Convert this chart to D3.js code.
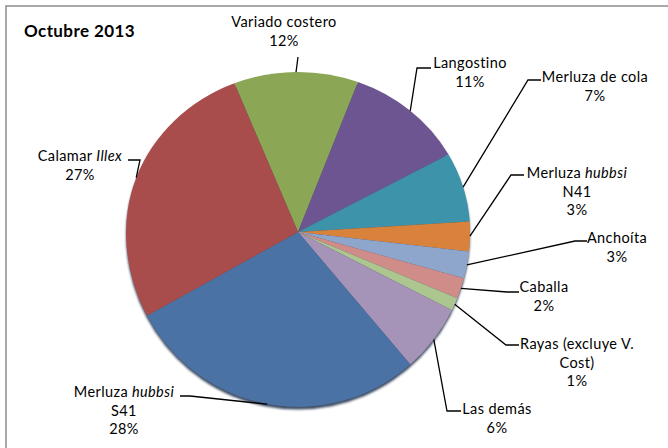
<!DOCTYPE html>
<html>
<head>
<meta charset="utf-8">
<script src="https://cdn.jsdelivr.net/npm/d3@7"></script>
<style>
  body { margin: 0; background: #fff; }
  text { font-family: Lato, "Liberation Sans", sans-serif; fill: #000; }
</style>
</head>
<body>
<svg id="chart" width="668" height="448"></svg>
<script>
// data, clockwise from the top
var categories = ["Variado costero", "Langostino", "Merluza de cola", "Merluza hubbsi\nN41",
  "Anchoíta", "Caballa", "Rayas (excluye V.\nCost)", "Las demás", "Merluza hubbsi\nS41", "Calamar Illex"];
var values = [11.7, 11.3, 7.0, 2.8, 2.5, 1.9, 1.2, 6.3, 28.4, 26.9];
var italicWords = ["hubbsi", "Illex"];
var colors = ["#8ba755", "#6d5591", "#3d93a9", "#d9823b", "#8fa6cc", "#cf8c89",
  "#adc58e", "#a594b8", "#4a72a4", "#a84d4b"];

// label layout: text centre x, first line centre y, elbow of leader, tail end x
var labelPos = [
  {x: 284, y: 22, ex: 298, ey: 57, tx: 298},
  {x: 470, y: 63, ex: 417, ey: 68, tx: 431},
  {x: 595, y: 77, ex: 528, ey: 80, tx: 541},
  {x: 577, y: 173, ex: 511, ey: 175, tx: 524},
  {x: 617, y: 238, ex: 575, ey: 241, tx: 587},
  {x: 544, y: 287, ex: 507, ey: 292, tx: 519},
  {x: 577, y: 344, ex: 506, ey: 345, tx: 519},
  {x: 497, y: 409, ex: 447, ey: 411, tx: 461},
  {x: 124, y: 392, ex: 190, ey: 396, tx: 180},
  {x: 80, y: 156, ex: 140, ey: 160, tx: 128}
];

var svg = d3.select("#chart");
var cx = 298, cy = 232, rx = 172, rTop = 160, rBot = 175;
var lineH = 18.5;

// chart frame (runs off the right and bottom edges)
svg.append("rect")
  .attr("x", 6).attr("y", 6).attr("width", 700).attr("height", 500)
  .attr("fill", "none").attr("stroke", "#8c8c8c").attr("stroke-width", 1.5);

svg.append("text")
  .attr("x", 24).attr("y", 37)
  .style("font-weight", "bold").style("font-size", "17px")
  .style("letter-spacing", "0.4px")
  .text("Octubre 2013");

var pie = d3.pie().sort(null).value(function(d) { return d; })
  .startAngle(-0.379).endAngle(2 * Math.PI - 0.379);
var arcs = pie(values);
var arc = d3.arc().innerRadius(0).outerRadius(1);

var defs = svg.append("defs");
defs.append("clipPath").attr("id", "clipTop").append("rect")
  .attr("x", -1.2).attr("y", -1.2).attr("width", 2.4).attr("height", 1.205);
defs.append("clipPath").attr("id", "clipBot").append("rect")
  .attr("x", -1.2).attr("y", 0).attr("width", 2.4).attr("height", 1.2);
defs.append("filter").attr("id", "blur").append("feGaussianBlur").attr("stdDeviation", 1.3);

// the disk is a little taller below the centre (tilted look)
var halves = [
  {clip: "clipTop", ry: rTop},
  {clip: "clipBot", ry: rBot}
];

// dark shadow under the rim
var shadow = svg.append("g").attr("filter", "url(#blur)");
halves.forEach(function(h) {
  shadow.append("g")
    .attr("transform", "translate(" + cx + "," + (cy + 2.5) + ") scale(" + rx + "," + h.ry + ")")
    .attr("clip-path", "url(#" + h.clip + ")")
    .append("path")
    .attr("d", arc({startAngle: 0, endAngle: 2 * Math.PI}))
    .attr("fill", "#1c2f48").attr("opacity", 0.85);
});

halves.forEach(function(h) {
  svg.append("g")
    .attr("transform", "translate(" + cx + "," + cy + ") scale(" + rx + "," + h.ry + ")")
    .attr("clip-path", "url(#" + h.clip + ")")
    .selectAll("path")
    .data(arcs)
    .enter()
    .append("path")
    .attr("d", arc)
    .attr("fill", function(d, i) { return colors[i]; });
});

function rim(a) {
  var c = Math.cos(a);
  return [cx + rx * Math.sin(a), cy - c * (c > 0 ? rTop : rBot)];
}

// leader lines
var line = d3.line();
svg.selectAll(".leader")
  .data(arcs)
  .enter()
  .append("path")
  .attr("class", "leader")
  .attr("fill", "none").attr("stroke", "#000").attr("stroke-width", 1.3)
  .attr("d", function(d, i) {
    var p = labelPos[i];
    return line([rim((d.startAngle + d.endAngle) / 2), [p.ex, p.ey], [p.tx, p.ey]]);
  });

// labels
arcs.forEach(function(d, i) {
  var p = labelPos[i];
  var lines = categories[i].split("\n");
  lines.push(Math.round(values[i]) + "%");
  var t = svg.append("text")
    .attr("text-anchor", "middle")
    .style("font-size", "14.5px")
    .style("letter-spacing", "0.4px");
  lines.forEach(function(ln, j) {
    var tl = t.append("tspan").attr("x", p.x).attr("y", p.y + j * lineH).attr("dy", "0.35em");
    ln.split(" ").forEach(function(w, k) {
      tl.append("tspan")
        .style("font-style", italicWords.indexOf(w) >= 0 ? "italic" : null)
        .text((k > 0 ? " " : "") + w);
    });
  });
});
</script>
</body>
</html>
